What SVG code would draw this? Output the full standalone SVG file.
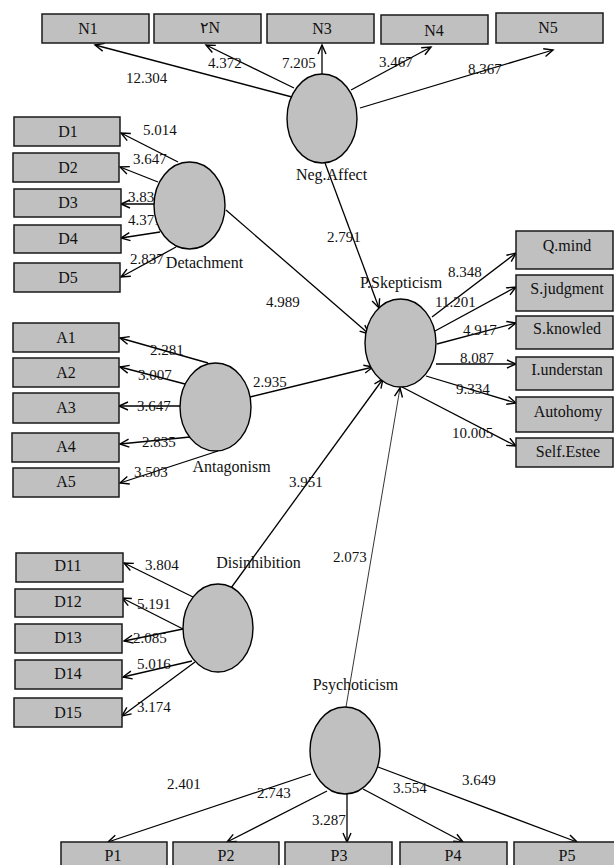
<svg xmlns="http://www.w3.org/2000/svg" width="614" height="865" viewBox="0 0 614 865">
<style>
.box{fill:#c0c0c0;stroke:#1a1a1a;stroke-width:1.5}
.lat{fill:#c0c0c0;stroke:#000;stroke-width:1.4}
.bl{font-family:"Liberation Serif","Times New Roman",serif;font-size:16px;fill:#111;text-anchor:middle}
.nl{font-family:"Liberation Serif","Times New Roman",serif;font-size:16px;fill:#111;text-anchor:middle}
.num{font-family:"Liberation Serif","Times New Roman",serif;font-size:15px;fill:#111}
.ar{font-family:"Liberation Serif","DejaVu Serif","DejaVu Sans",serif}
.c line{stroke:#000;stroke-width:1.3;marker-end:url(#ah)}
</style>
<defs>
<marker id="ah" markerUnits="userSpaceOnUse" markerWidth="12" markerHeight="12" refX="10" refY="5" orient="auto">
<path d="M1,1 L10,5 L1,9" fill="none" stroke="#000" stroke-width="1.4"/>
</marker>
</defs>
<rect width="614" height="865" fill="#fff"/>
<g id="connectors" class="c">
<line x1="292" y1="97" x2="95" y2="45"/>
<line x1="294" y1="88" x2="206" y2="45"/>
<line x1="322" y1="74" x2="322" y2="45"/>
<line x1="351" y1="90" x2="431" y2="47"/>
<line x1="360" y1="108" x2="553" y2="50"/>
<line x1="325" y1="163" x2="379" y2="308"/>
<line x1="178" y1="162" x2="121" y2="133"/>
<line x1="158" y1="182" x2="120" y2="167"/>
<line x1="157" y1="204" x2="121" y2="204"/>
<line x1="160" y1="232" x2="121" y2="238"/>
<line x1="176" y1="247" x2="121" y2="277"/>
<line x1="226" y1="210" x2="369" y2="334"/>
<line x1="432" y1="317" x2="516" y2="253"/>
<line x1="435" y1="331" x2="516" y2="287"/>
<line x1="437" y1="344" x2="516" y2="323"/>
<line x1="436" y1="364" x2="516" y2="364"/>
<line x1="426" y1="376" x2="516" y2="403"/>
<line x1="402" y1="387" x2="516" y2="446"/>
<line x1="208" y1="363" x2="120" y2="338"/>
<line x1="185" y1="384" x2="120" y2="367"/>
<line x1="180" y1="406" x2="119" y2="406"/>
<line x1="190" y1="437" x2="120" y2="444"/>
<line x1="218" y1="451" x2="120" y2="483"/>
<line x1="250" y1="397" x2="373" y2="367"/>
<line x1="193" y1="597" x2="124" y2="563"/>
<line x1="183" y1="629" x2="122" y2="598"/>
<line x1="183" y1="629" x2="124" y2="641"/>
<line x1="192" y1="661" x2="123" y2="677"/>
<line x1="195" y1="662" x2="122" y2="716"/>
<line x1="231" y1="588" x2="383" y2="379"/>
<line x1="346" y1="707" x2="400" y2="388" style="stroke-width:0.8"/>
<line x1="311" y1="774" x2="108" y2="842"/>
<line x1="327" y1="791" x2="227" y2="842"/>
<line x1="347" y1="794" x2="347" y2="842"/>
<line x1="363" y1="789" x2="463" y2="842"/>
<line x1="378" y1="767" x2="577" y2="842"/>
<text class="num" x="126" y="83">12.304</text>
<text class="num" x="208" y="68">4.372</text>
<text class="num" x="282" y="68">7.205</text>
<text class="num" x="379" y="67">3.467</text>
<text class="num" x="468" y="74">8.367</text>
<text class="num" x="143" y="135">5.014</text>
<text class="num" x="133" y="164">3.647</text>
<text class="num" x="128" y="202">3.831</text>
<text class="num" x="128" y="225">4.371</text>
<text class="num" x="130" y="264">2.837</text>
<text class="num" x="266" y="307">4.989</text>
<text class="num" x="327" y="242">2.791</text>
<text class="num" x="448" y="277">8.348</text>
<text class="num" x="435" y="307">11.201</text>
<text class="num" x="463" y="335">4.917</text>
<text class="num" x="460" y="363">8.087</text>
<text class="num" x="456" y="394">9.334</text>
<text class="num" x="452" y="438">10.005</text>
<text class="num" x="150" y="355">2.281</text>
<text class="num" x="138" y="380">3.007</text>
<text class="num" x="137" y="411">3.647</text>
<text class="num" x="142" y="447">2.835</text>
<text class="num" x="134" y="477">3.503</text>
<text class="num" x="253" y="387">2.935</text>
<text class="num" x="289" y="487">3.951</text>
<text class="num" x="333" y="562">2.073</text>
<text class="num" x="145" y="570">3.804</text>
<text class="num" x="137" y="609">5.191</text>
<text class="num" x="133" y="643">2.085</text>
<text class="num" x="137" y="669">5.016</text>
<text class="num" x="137" y="712">3.174</text>
<text class="num" x="167" y="789">2.401</text>
<text class="num" x="257" y="798">2.743</text>
<text class="num" x="312" y="825">3.287</text>
<text class="num" x="393" y="793">3.554</text>
<text class="num" x="462" y="785">3.649</text>
</g>
<g id="N1"><rect class="box" x="42" y="14" width="107" height="29"/><text class="bl" x="88" y="34">N1</text></g>
<g id="N2"><rect class="box" x="154" y="14" width="107" height="29"/><text class="bl ar" x="210" y="33">٢N</text></g>
<g id="N3"><rect class="box" x="267" y="14" width="107" height="29"/><text class="bl" x="322" y="34">N3</text></g>
<g id="N4"><rect class="box" x="381" y="15" width="107" height="29"/><text class="bl" x="434" y="36">N4</text></g>
<g id="N5"><rect class="box" x="496" y="13" width="107" height="30"/><text class="bl" x="548" y="33">N5</text></g>
<g id="D1"><rect class="box" x="14" y="117" width="106" height="29"/><text class="bl" x="68" y="137">D1</text></g>
<g id="D2"><rect class="box" x="13" y="153" width="106" height="29"/><text class="bl" x="68" y="173">D2</text></g>
<g id="D3"><rect class="box" x="14" y="189" width="107" height="28"/><text class="bl" x="68" y="208">D3</text></g>
<g id="D4"><rect class="box" x="14" y="225" width="107" height="28"/><text class="bl" x="68" y="244">D4</text></g>
<g id="D5"><rect class="box" x="14" y="263" width="106" height="29"/><text class="bl" x="68" y="283">D5</text></g>
<g id="A1"><rect class="box" x="13" y="323" width="106" height="29"/><text class="bl" x="66" y="343">A1</text></g>
<g id="A2"><rect class="box" x="13" y="358" width="106" height="29"/><text class="bl" x="66" y="378">A2</text></g>
<g id="A3"><rect class="box" x="13" y="393" width="106" height="30"/><text class="bl" x="66" y="413">A3</text></g>
<g id="A4"><rect class="box" x="12" y="433" width="107" height="29"/><text class="bl" x="66" y="452">A4</text></g>
<g id="A5"><rect class="box" x="13" y="468" width="106" height="29"/><text class="bl" x="66" y="487">A5</text></g>
<g id="D11"><rect class="box" x="16" y="553" width="107" height="29"/><text class="bl" x="68" y="571">D11</text></g>
<g id="D12"><rect class="box" x="15" y="589" width="108" height="28"/><text class="bl" x="68" y="607">D12</text></g>
<g id="D13"><rect class="box" x="15" y="624" width="107" height="29"/><text class="bl" x="68" y="643">D13</text></g>
<g id="D14"><rect class="box" x="15" y="660" width="107" height="29"/><text class="bl" x="68" y="679">D14</text></g>
<g id="D15"><rect class="box" x="14" y="698" width="108" height="29"/><text class="bl" x="68" y="718">D15</text></g>
<g id="Qmind"><rect class="box" x="516" y="231" width="97" height="38"/><text class="bl" x="567" y="251">Q.mind</text></g>
<g id="Sjudgment"><rect class="box" x="516" y="275" width="97" height="36"/><text class="bl" x="567" y="294">S.judgment</text></g>
<g id="Sknowledge"><rect class="box" x="516" y="316" width="97" height="33"/><text class="bl" x="567" y="334">S.knowled</text></g>
<g id="Iunderstanding"><rect class="box" x="516" y="357" width="97" height="33"/><text class="bl" x="567" y="375">I.understan</text></g>
<g id="Autohomy"><rect class="box" x="516" y="397" width="97" height="35"/><text class="bl" x="568" y="417">Autohomy</text></g>
<g id="SelfEstee"><rect class="box" x="516" y="438" width="97" height="29"/><text class="bl" x="568" y="457">Self.Estee</text></g>
<g id="P1"><rect class="box" x="61" y="842" width="106" height="30"/><text class="bl" x="113" y="861">P1</text></g>
<g id="P2"><rect class="box" x="173" y="842" width="106" height="30"/><text class="bl" x="226" y="861">P2</text></g>
<g id="P3"><rect class="box" x="285" y="842" width="107" height="30"/><text class="bl" x="339" y="861">P3</text></g>
<g id="P4"><rect class="box" x="400" y="842" width="107" height="30"/><text class="bl" x="453" y="861">P4</text></g>
<g id="P5"><rect class="box" x="514" y="842" width="106" height="30"/><text class="bl" x="567" y="861">P5</text></g>
<g id="NegAffect"><ellipse class="lat" cx="322" cy="118.5" rx="35" ry="44.5"/><text class="nl" x="331.5" y="180">Neg.Affect</text></g>
<g id="Detachment"><ellipse class="lat" cx="189.5" cy="205.5" rx="35.5" ry="43.5"/><text class="nl" x="204.5" y="268">Detachment</text></g>
<g id="PSkepticism"><ellipse class="lat" cx="400.5" cy="343" rx="35.5" ry="44"/><text class="nl" x="401" y="288">P.Skepticism</text></g>
<g id="Antagonism"><ellipse class="lat" cx="215.5" cy="407" rx="35.5" ry="44"/><text class="nl" x="231.5" y="472">Antagonism</text></g>
<g id="Disinhibition"><ellipse class="lat" cx="218" cy="628" rx="35" ry="44"/><text class="nl" x="258.5" y="568">Disinhibition</text></g>
<g id="Psychoticism"><ellipse class="lat" cx="345" cy="750.5" rx="35" ry="43.5"/><text class="nl" x="355.5" y="690">Psychoticism</text></g>
</svg>
